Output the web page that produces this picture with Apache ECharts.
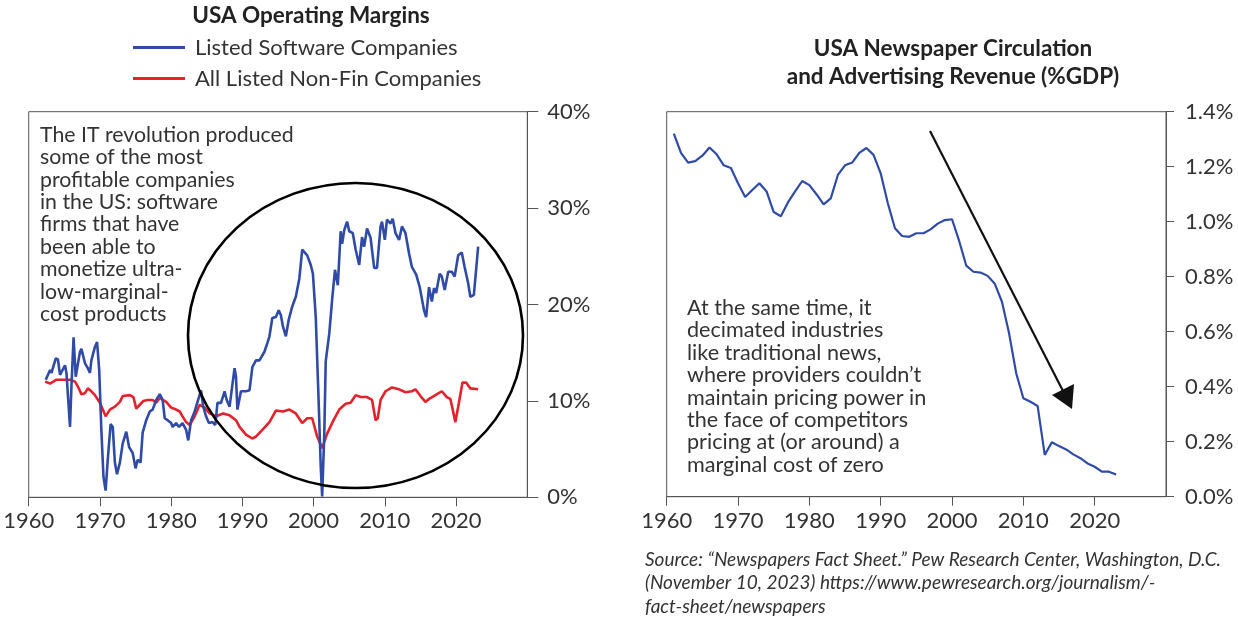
<!DOCTYPE html>
<html>
<head>
<meta charset="utf-8">
<script src="https://cdn.jsdelivr.net/npm/echarts@6/dist/echarts.min.js"></script>
<style>
  html, body { margin: 0; padding: 0; background: #fff; }
  #chart { width: 1238px; height: 617px; }
</style>
</head>
<body>
<div id="chart"></div>
<script>
// left panel: operating margins (%)
const swYears = [1962.4, 1963.0, 1963.2, 1963.8, 1964.1, 1964.4, 1965.1, 1965.3, 1965.8, 1966.0, 1966.3, 1966.6, 1967.2, 1967.4, 1967.9, 1968.3, 1968.6, 1968.8, 1969.3, 1969.6, 1969.9, 1970.2, 1970.5, 1970.8, 1971.1, 1971.5, 1971.8, 1972.1, 1972.4, 1972.8, 1973.2, 1973.7, 1974.1, 1974.6, 1975.0, 1975.3, 1975.7, 1976.0, 1976.5, 1977.0, 1977.4, 1977.9, 1978.4, 1978.8, 1979.1, 1979.5, 1980.0, 1980.2, 1980.7, 1981.1, 1981.6, 1982.1, 1982.4, 1982.8, 1983.3, 1983.7, 1984.2, 1984.5, 1984.9, 1985.3, 1985.8, 1986.2, 1986.5, 1987.0, 1987.5, 1987.8, 1988.2, 1988.9, 1989.1, 1989.3, 1989.8, 1990.5, 1991.0, 1991.4, 1991.9, 1992.4, 1993.1, 1993.5, 1993.8, 1994.2, 1994.7, 1995.1, 1995.4, 1995.7, 1996.1, 1996.5, 1997.0, 1997.5, 1998.0, 1998.4, 1999.1, 1999.6, 1999.9, 2000.3, 2000.7, 2001.0, 2001.2, 2001.5, 2001.7, 2002.2, 2002.6, 2003.0, 2003.4, 2003.8, 2004.0, 2004.3, 2004.7, 2005.0, 2005.5, 2005.9, 2006.4, 2006.8, 2007.1, 2007.5, 2008.0, 2008.5, 2008.9, 2009.4, 2009.6, 2010.0, 2010.3, 2010.8, 2011.1, 2011.5, 2012.0, 2012.4, 2012.9, 2013.4, 2013.8, 2014.4, 2014.9, 2015.5, 2015.8, 2016.2, 2016.6, 2016.9, 2017.2, 2017.7, 2018.0, 2018.4, 2018.9, 2019.4, 2019.8, 2020.3, 2020.8, 2021.2, 2021.7, 2022.0, 2022.5, 2023.1];
const swValues = [12.2, 13.2, 12.9, 14.4, 14.3, 12.7, 13.7, 12.9, 7.3, 11.5, 16.6, 12.5, 15.1, 15.4, 13.9, 13.4, 12.9, 14.2, 15.6, 16.1, 13.2, 7.0, 2.1, 0.7, 3.9, 7.6, 7.3, 3.6, 2.4, 3.6, 5.6, 6.8, 5.2, 4.6, 3.0, 3.9, 3.6, 6.7, 8.0, 8.9, 9.1, 10.1, 10.7, 10.1, 8.2, 8.0, 7.7, 7.3, 7.7, 7.3, 7.7, 7.0, 5.9, 8.0, 8.9, 9.9, 11.1, 9.4, 8.4, 7.7, 7.8, 7.5, 9.8, 9.8, 11.0, 10.1, 9.4, 13.4, 12.5, 9.1, 11.0, 11.0, 11.1, 13.5, 14.2, 14.2, 15.1, 16.0, 16.7, 18.6, 18.7, 19.4, 18.9, 17.7, 16.7, 18.4, 19.8, 20.8, 22.7, 25.7, 25.1, 24.1, 23.2, 18.7, 10.1, 3.2, 0.1, 6.6, 14.1, 17.0, 20.5, 23.6, 22.0, 27.6, 26.3, 27.7, 28.6, 27.6, 27.4, 25.7, 24.1, 27.0, 26.0, 27.9, 26.9, 23.8, 23.8, 28.1, 28.6, 26.7, 28.8, 28.4, 28.9, 27.4, 26.7, 28.1, 27.4, 25.3, 23.9, 23.1, 21.8, 19.4, 18.7, 21.8, 20.3, 21.7, 21.2, 23.2, 22.9, 21.5, 23.4, 23.4, 22.9, 25.1, 25.4, 23.9, 22.2, 20.8, 21.0, 26.0];

const nfYears = [1962.3, 1963.0, 1963.9, 1965.1, 1965.8, 1966.5, 1966.9, 1967.4, 1967.9, 1968.3, 1968.8, 1969.3, 1970.0, 1970.4, 1970.8, 1971.4, 1972.1, 1972.8, 1973.2, 1974.2, 1974.7, 1975.1, 1975.6, 1976.1, 1976.7, 1977.4, 1977.9, 1978.4, 1979.3, 1980.0, 1980.7, 1981.2, 1981.6, 1982.1, 1982.6, 1983.3, 1984.0, 1984.7, 1985.4, 1986.3, 1987.3, 1988.2, 1989.1, 1989.6, 1990.5, 1991.4, 1991.9, 1992.8, 1993.8, 1994.7, 1995.7, 1996.6, 1997.5, 1998.4, 1999.1, 1999.8, 2000.5, 2001.2, 2001.9, 2002.8, 2003.6, 2004.5, 2005.2, 2005.9, 2006.6, 2007.5, 2008.2, 2008.7, 2009.0, 2009.4, 2010.1, 2011.0, 2012.0, 2012.9, 2013.8, 2014.3, 2015.0, 2015.7, 2016.4, 2017.1, 2018.0, 2018.7, 2019.2, 2019.5, 2019.9, 2020.3, 2020.9, 2021.4, 2022.0, 2023.1];
const nfValues = [12.0, 11.8, 12.2, 12.2, 12.2, 12.0, 11.5, 10.7, 10.8, 11.3, 11.0, 10.6, 9.8, 9.1, 8.4, 9.1, 9.4, 9.9, 10.5, 10.6, 10.4, 9.2, 9.6, 10.0, 10.1, 10.1, 9.8, 10.3, 9.9, 9.3, 9.1, 8.9, 8.4, 7.8, 7.5, 8.4, 9.6, 9.3, 8.7, 8.4, 8.7, 8.5, 8.0, 7.3, 6.5, 6.1, 6.3, 7.0, 7.8, 9.0, 8.9, 9.1, 8.7, 7.7, 8.2, 8.2, 6.3, 5.1, 6.6, 8.0, 9.1, 9.7, 9.8, 10.6, 10.4, 10.4, 10.1, 8.0, 8.2, 10.1, 11.0, 11.4, 11.2, 10.9, 11.0, 11.2, 10.5, 9.9, 10.3, 10.6, 11.0, 10.4, 10.2, 9.2, 7.8, 9.4, 11.9, 11.9, 11.3, 11.2];

// right panel: newspaper circulation + ad revenue (% of GDP)
const newsYears = [1961, 1962, 1963, 1964, 1965, 1966, 1967, 1968, 1969, 1970, 1971, 1972, 1973, 1974, 1975, 1976, 1977, 1978, 1979, 1980, 1981, 1982, 1983, 1984, 1985, 1986, 1987, 1988, 1989, 1990, 1991, 1992, 1993, 1994, 1995, 1996, 1997, 1998, 1999, 2000, 2001, 2002, 2003, 2004, 2005, 2006, 2007, 2008, 2009, 2010, 2011, 2012, 2013, 2014, 2015, 2016, 2017, 2018, 2019, 2020, 2021, 2022, 2023];
const newsValues = [1.32, 1.25, 1.215, 1.22, 1.24, 1.27, 1.245, 1.205, 1.195, 1.14, 1.09, 1.115, 1.14, 1.11, 1.035, 1.02, 1.07, 1.11, 1.148, 1.133, 1.1, 1.063, 1.085, 1.17, 1.205, 1.215, 1.25, 1.268, 1.243, 1.176, 1.067, 0.976, 0.948, 0.945, 0.958, 0.958, 0.972, 0.993, 1.006, 1.009, 0.93, 0.84, 0.818, 0.815, 0.803, 0.774, 0.709, 0.594, 0.449, 0.358, 0.345, 0.33, 0.152, 0.198, 0.184, 0.172, 0.154, 0.14, 0.121, 0.109, 0.091, 0.091, 0.081];

const decadeTicks = [1960, 1970, 1980, 1990, 2000, 2010, 2020];

const BLUE = "#2f4ba6";
const RED = "#e3222b";
const INK = "#333333";
const AXIS = "#555555";
const FONT = "Lato, 'Open Sans', sans-serif";

const pairs = (xs, ys) => xs.map((x, i) => [x, ys[i]]);

const chart = echarts.init(document.getElementById("chart"));

function xAxisFor(gridIndex) {
  return {
    gridIndex,
    type: "value",
    min: 1960,
    max: 2030,
    interval: 10,
    splitLine: { show: false },
    axisLine: { show: true, onZero: false, lineStyle: { color: AXIS, width: 1 } },
    axisTick: { show: true, length: 9, customValues: decadeTicks, lineStyle: { color: AXIS } },
    axisLabel: {
      customValues: decadeTicks,
      color: INK,
      fontSize: 22,
      fontFamily: FONT,
      margin: 13,
      formatter: (v) => String(v),
    },
  };
}

chart.setOption({
  animation: false,
  textStyle: { fontFamily: FONT },
  grid: [
    { left: 28.7, right: 710.7, top: 111.7, bottom: 119.7, show: true, borderColor: AXIS, borderWidth: 1, containLabel: false },
    { left: 666.7, right: 72, top: 111.7, bottom: 120.3, show: true, borderColor: AXIS, borderWidth: 1, containLabel: false },
  ],
  legend: {
    orient: "vertical",
    left: 128,
    top: 31,
    icon: "rect",
    itemWidth: 52,
    itemHeight: 3,
    itemGap: 8,
    data: ["Listed Software Companies", "All Listed Non-Fin Companies"],
    textStyle: { color: INK, fontSize: 22, fontFamily: FONT, lineHeight: 23, padding: [0, 0, 0, 5] },
  },
  xAxis: [xAxisFor(0), xAxisFor(1)],
  yAxis: [
    {
      gridIndex: 0,
      type: "value",
      position: "right",
      min: 0,
      max: 40,
      interval: 10,
      splitLine: { show: false },
      axisLine: { show: true, lineStyle: { color: AXIS } },
      axisTick: { show: true, length: 11, lineStyle: { color: AXIS } },
      axisLabel: { color: INK, fontSize: 22, fontFamily: FONT, margin: 20, formatter: "{value}%" },
    },
    {
      gridIndex: 1,
      type: "value",
      position: "right",
      min: 0,
      max: 1.4,
      interval: 0.2,
      splitLine: { show: false },
      axisLine: { show: true, lineStyle: { color: AXIS } },
      axisTick: { show: true, length: 8, lineStyle: { color: AXIS } },
      axisLabel: {
        color: INK,
        fontSize: 22,
        fontFamily: FONT,
        margin: 19,
        formatter: (v) => v.toFixed(1) + "%",
      },
    },
  ],
  series: [
    {
      name: "Listed Software Companies",
      type: "line",
      xAxisIndex: 0,
      yAxisIndex: 0,
      data: pairs(swYears, swValues),
      showSymbol: false,
      color: BLUE,
      lineStyle: { color: BLUE, width: 2.6 },
      z: 3,
    },
    {
      name: "All Listed Non-Fin Companies",
      type: "line",
      xAxisIndex: 0,
      yAxisIndex: 0,
      data: pairs(nfYears, nfValues),
      showSymbol: false,
      color: RED,
      lineStyle: { color: RED, width: 2.6 },
      z: 2,
    },
    {
      name: "Newspaper Revenue",
      type: "line",
      xAxisIndex: 1,
      yAxisIndex: 1,
      data: pairs(newsYears, newsValues),
      showSymbol: false,
      color: BLUE,
      lineStyle: { color: BLUE, width: 2.2 },
    },
  ],
  graphic: [
    {
      type: "text",
      x: 311,
      y: 16,
      style: { text: "USA Operating Margins", font: "bold 22.5px " + FONT, fill: "#222", align: "center", verticalAlign: "middle" },
    },
    {
      type: "text",
      x: 953,
      y: 35,
      style: {
        text: "USA Newspaper Circulation\nand Advertising Revenue (%GDP)",
        font: "bold 22.5px " + FONT,
        fill: "#222",
        align: "center",
        verticalAlign: "top",
        lineHeight: 28,
      },
    },
    {
      type: "text",
      x: 40,
      y: 123.8,
      style: {
        text: "The IT revolution produced\nsome of the most\nprofitable companies\nin the US: software\nfirms that have\nbeen able to\nmonetize ultra-\nlow-marginal-\ncost products",
        font: "21.3px " + FONT,
        fill: INK,
        lineHeight: 22.4,
        verticalAlign: "top",
      },
    },
    {
      type: "text",
      x: 687,
      y: 296.8,
      style: {
        text: "At the same time, it\ndecimated industries\nlike traditional news,\nwhere providers couldn\u2019t\nmaintain pricing power in\nthe face of competitors\npricing at (or around) a\nmarginal cost of zero",
        font: "21.6px " + FONT,
        fill: INK,
        lineHeight: 22.4,
        verticalAlign: "top",
      },
    },
    {
      type: "text",
      x: 645,
      y: 548,
      style: {
        text: "Source: \u201cNewspapers Fact Sheet.\u201d Pew Research Center, Washington, D.C.\n(November 10, 2023) https://www.pewresearch.org/journalism/-\nfact-sheet/newspapers",
        font: "italic 19px " + FONT,
        fill: INK,
        lineHeight: 23.5,
        verticalAlign: "top",
      },
    },
    // ellipse around the software boom
    {
      type: "circle",
      x: 355.5,
      y: 335.5,
      scaleX: 167.5 / 152.5,
      shape: { cx: 0, cy: 0, r: 152.5 },
      style: { fill: "none", stroke: "#000", lineWidth: 2.4 },
      z: 10,
    },
    // arrow on the newspaper panel
    {
      type: "line",
      shape: { x1: 930, y1: 131, x2: 1063, y2: 391 },
      style: { stroke: "#111", lineWidth: 2.2 },
      z: 10,
    },
    {
      type: "polygon",
      shape: { points: [[1072, 409], [1052, 395], [1074, 384]] },
      style: { fill: "#111" },
      z: 10,
    },
  ],
});
</script>
</body>
</html>
